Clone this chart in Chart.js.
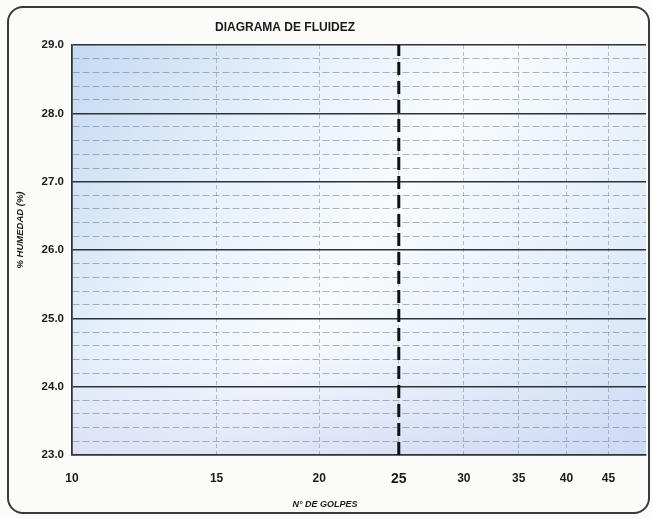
<!DOCTYPE html>
<html>
<head>
<meta charset="utf-8">
<script src="https://cdn.jsdelivr.net/npm/chart.js@4"></script>
<style>
  body { margin: 0; background: #fbfbfa; }
  #caja { position: relative; width: 652px; height: 519px; }
  #marco {
    position: absolute; left: 7px; top: 6px; width: 639px; height: 504px;
    border: 2px solid #3a3a3a; border-radius: 16px; pointer-events: none;
  }
</style>
</head>
<body>
<div id="caja">
  <canvas id="grafico" width="652" height="519"></canvas>
  <div id="marco"></div>
</div>
<script>
// Eje X (log): nº de golpes
let golpesTicks = [10, 15, 20, 25, 30, 35, 40, 45];
let golpesMin = 10;
let golpesMax = 50;

// Eje Y: % humedad
let humedadMin = 23;
let humedadMax = 29;
let humedadPaso = 0.2;

// linea vertical de los 25 golpes
let limiteGolpes = [25, 25];
let limiteHumedad = [23, 29];

// textos
let titulo = 'DIAGRAMA DE FLUIDEZ';
let tituloX = 'N° DE GOLPES';
let tituloY = '% HUMEDAD (%)';

function esEntero(v) {
	return Math.abs(v - Math.round(v)) < 1e-6;
}

// fondo azulado del area del grafico
const fondo = {
	id: 'fondo',
	beforeDraw(chart) {
		const { ctx, chartArea: a } = chart;
		const g = ctx.createLinearGradient(a.left, a.top, a.right, a.bottom);
		g.addColorStop(0, '#c4d9f3');
		g.addColorStop(0.3, '#e8f2fb');
		g.addColorStop(0.5, '#f8fbfd');
		g.addColorStop(0.75, '#e6f0fa');
		g.addColorStop(1, '#d0e2f6');
		ctx.save();
		ctx.fillStyle = g;
		ctx.fillRect(a.left, a.top, a.right - a.left, a.bottom - a.top);
		// tono lila abajo
		const g2 = ctx.createLinearGradient(0, a.bottom - 110, 0, a.bottom);
		g2.addColorStop(0, 'rgba(205,210,245,0)');
		g2.addColorStop(1, 'rgba(205,210,245,0.55)');
		ctx.fillStyle = g2;
		ctx.fillRect(a.left, a.bottom - 110, a.right - a.left, 110);
		ctx.restore();
	}
};

// textos en su sitio (titulo y titulos de ejes)
const textos = {
	id: 'textos',
	afterDraw(chart) {
		const ctx = chart.ctx;
		ctx.save();
		ctx.fillStyle = '#1a1a1a';
		ctx.textAlign = 'center';
		ctx.textBaseline = 'middle';
		ctx.font = 'bold 12px "Liberation Sans", Arial, sans-serif';
		ctx.fillText(titulo, 285, 28);
		ctx.font = 'italic bold 9px "Liberation Sans", Arial, sans-serif';
		ctx.fillText(tituloX, 325, 505);
		ctx.font = 'italic bold 9.5px "Liberation Sans", Arial, sans-serif';
		ctx.translate(20, 230);
		ctx.rotate(-Math.PI / 2);
		ctx.fillText(tituloY, 0, 0);
		ctx.restore();
	}
};

const data = {
	datasets: [{
		label: '25 golpes',
		data: limiteGolpes.map((x, i) => ({ x: x, y: limiteHumedad[i] })),
		borderColor: '#111',
		borderWidth: 3,
		borderDash: [13, 6],
		pointRadius: 0,
		showLine: true
	}]
};

const config = {
	type: 'scatter',
	data: data,
	options: {
		responsive: false,
		animation: false,
		layout: { padding: { top: 45, right: 6, left: 0, bottom: 0 } },
		plugins: {
			legend: { display: false },
			tooltip: { enabled: false }
		},
		scales: {
			x: {
				type: 'logarithmic',
				min: golpesMin,
				max: golpesMax,
				afterBuildTicks: (s) => { s.ticks = golpesTicks.map(v => ({ value: v })); },
				afterFit: (s) => { s.height = 64; },
				ticks: {
					autoSkip: false,
					maxRotation: 0,
					padding: 16,
					color: '#1a1a1a',
					callback: (v) => String(v),
					font: (c) => ({
						family: '"Liberation Sans", Arial, sans-serif',
						weight: 'bold',
						size: c.tick && c.tick.value === 25 ? 14 : 12
					})
				},
				grid: {
					drawTicks: false,
					color: (c) => c.index === 0 ? '#333' : 'rgba(110,120,135,0.45)',
					lineWidth: (c) => c.index === 0 ? 1.5 : 1
				},
				border: {
					display: true,
					color: '#333',
					width: 1.5,
					dash: (c) => c.index === 0 ? [] : [4, 3]
				}
			},
			y: {
				min: humedadMin,
				max: humedadMax,
				afterFit: (s) => { s.width = 72; },
				ticks: {
					stepSize: humedadPaso,
					autoSkip: false,
					padding: 8,
					color: '#1a1a1a',
					font: { family: '"Liberation Sans", Arial, sans-serif', weight: 'bold', size: 11.5 },
					callback: (v) => esEntero(v) ? Number(v).toFixed(1) : ''
				},
				grid: {
					drawTicks: false,
					color: (c) => c.tick && esEntero(c.tick.value) ? '#2e3338' : 'rgba(100,108,120,0.5)',
					lineWidth: (c) => c.tick && esEntero(c.tick.value) ? 1.6 : 1
				},
				border: {
					display: true,
					color: '#333',
					width: 1.5,
					dash: (c) => c.tick && esEntero(c.tick.value) ? [] : [7, 3]
				}
			}
		}
	},
	plugins: [fondo, textos]
};

const grafico = new Chart(document.getElementById('grafico'), config);
</script>
</body>
</html>
